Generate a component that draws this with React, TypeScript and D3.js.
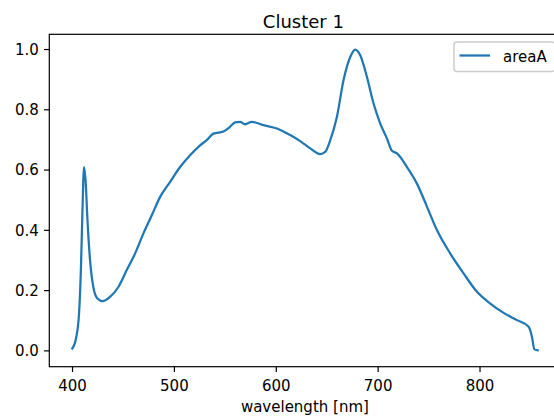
import React from "react";
import * as d3 from "d3";

// Spectrum of cluster 1: wavelength (nm) and normalised intensity
const wavelengths = [
  399.8, 403.4, 406.4, 408.3, 409.6, 411.3, 413, 414.5, 417.2, 420.4, 424.4, 429.6,
  436.8, 445, 453.2, 461.4, 469.6, 477.8, 486, 495.8, 505.6, 515.4, 525.2, 532,
  538.3, 548.1, 554, 559.6, 564.5, 569.4, 576, 587.4, 600.6, 613.6, 623.5, 633.3,
  643.1, 648, 653, 659.5, 666, 672.6, 677.5, 682.4, 689, 695.5, 702, 708.6, 713.6,
  718.5, 728.3, 738.1, 748, 757.8, 770.8, 783.9, 797, 810.1, 823.2, 836.3, 847.7,
  851, 853.4, 856.6,
];
const intensities = [
  0.008, 0.041, 0.124, 0.279, 0.445, 0.61, 0.555, 0.445, 0.301, 0.212, 0.174, 0.165,
  0.179, 0.212, 0.268, 0.323, 0.39, 0.45, 0.511, 0.561, 0.61, 0.649, 0.682, 0.7,
  0.721, 0.728, 0.742, 0.758, 0.76, 0.752, 0.76, 0.749, 0.738, 0.716, 0.696, 0.672,
  0.653, 0.66, 0.699, 0.776, 0.898, 0.975, 1.0, 0.981, 0.909, 0.821, 0.755, 0.705,
  0.664, 0.655, 0.61, 0.555, 0.478, 0.4, 0.323, 0.257, 0.196, 0.157, 0.126, 0.102,
  0.08, 0.046, 0.005, 0.002,
];
const xTicks = [400, 500, 600, 700, 800];
const yTicks = [0.0, 0.2, 0.4, 0.6, 0.8, 1.0];
const seriesName = "areaA";
const title = "Cluster 1";
const xLabel = "wavelength [nm]";

const W = 554;
const H = 418;
const plot = { left: 49.3, right: 560.5, top: 34.3, bottom: 366.7 };
const FONT = "'DejaVu Sans', sans-serif";
const LINE_COLOR = "#1f77b4";

export default function App() {
  const x = d3.scaleLinear().domain([377.2, 879]).range([plot.left, plot.right]);
  const y = d3.scaleLinear().domain([-0.0525, 1.0505]).range([plot.bottom, plot.top]);

  const points: [number, number][] = wavelengths.map((w, i) => [w, intensities[i]]);
  const path = d3
    .line<[number, number]>()
    .x((d) => x(d[0]))
    .y((d) => y(d[1]))
    .curve(d3.curveMonotoneX)(points) as string;

  const tickLen = 5.25;
  const pad = 5.25;
  const fmt = d3.format(".1f");

  const legend = { x: 454, y: 42, w: 101, h: 29.5 };

  return (
    <svg
      width={W}
      height={H}
      style={{ position: "absolute", left: 0, top: 0, background: "#fff" }}
      fontFamily={FONT}
    >
      <defs>
        <clipPath id="plot-clip">
          <rect x={plot.left} y={plot.top} width={plot.right - plot.left} height={plot.bottom - plot.top} />
        </clipPath>
      </defs>

      <path d={path} fill="none" stroke={LINE_COLOR} strokeWidth={2.25} strokeLinejoin="round" strokeLinecap="square" clipPath="url(#plot-clip)" />

      {/* spines */}
      <rect
        x={plot.left}
        y={plot.top}
        width={plot.right - plot.left}
        height={plot.bottom - plot.top}
        fill="none"
        stroke="#000"
        strokeWidth={1.2}
      />

      {/* x axis */}
      {xTicks.map((t) => (
        <g key={`x${t}`}>
          <line x1={x(t)} x2={x(t)} y1={plot.bottom} y2={plot.bottom + tickLen} stroke="#000" strokeWidth={1.2} />
          <text x={x(t)} y={391} textAnchor="middle" fontSize={15} fill="#000">
            {t}
          </text>
        </g>
      ))}

      {/* y axis */}
      {yTicks.map((t) => (
        <g key={`y${t}`}>
          <line x1={plot.left - tickLen} x2={plot.left} y1={y(t)} y2={y(t)} stroke="#000" strokeWidth={1.2} />
          <text
            x={plot.left - tickLen - pad}
            y={y(t) + 5.4}
            textAnchor="end"
            fontSize={15}
            fill="#000"
          >
            {fmt(t)}
          </text>
        </g>
      ))}

      <text x={(plot.left + plot.right) / 2} y={412} textAnchor="middle" fontSize={15} fill="#000">
        {xLabel}
      </text>
      <text x={(plot.left + plot.right) / 2 - 1.5} y={27.5} textAnchor="middle" fontSize={18} fill="#000">
        {title}
      </text>

      {/* legend */}
      <g>
        <rect
          x={legend.x}
          y={legend.y}
          width={legend.w}
          height={legend.h}
          rx={3}
          fill="#fff"
          fillOpacity={0.8}
          stroke="#cccccc"
          strokeWidth={1.5}
        />
        <line x1={459.5} x2={490} y1={55.5} y2={55.5} stroke={LINE_COLOR} strokeWidth={2.25} />
        <text x={503} y={61.5} fontSize={15} fill="#000">
          {seriesName}
        </text>
      </g>
    </svg>
  );
}
